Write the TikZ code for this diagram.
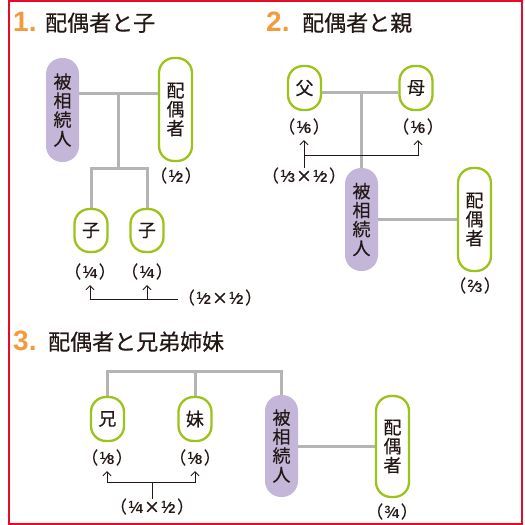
\documentclass[tikz,border=0pt]{standalone}
\usepackage{fontspec}
\setmainfont{Noto Sans CJK JP}[FakeBold=0.35]
\newfontfamily\numfont{Liberation Sans}
\usetikzlibrary{arrows.meta}
\definecolor{orangeC}{HTML}{F39A3C}
\definecolor{purpleC}{HTML}{C4B6D9}
\definecolor{greenC}{HTML}{9CC31A}
\definecolor{grayC}{HTML}{B4B4B4}
\definecolor{redC}{HTML}{E60A28}
\definecolor{textC}{HTML}{231815}
\newcommand\myfr[2]{{\numfont\bfseries\raisebox{4.2pt}{\fontsize{10.5}{10.5}\selectfont #1}\kern-0.6pt{\fontsize{16}{16}\selectfont\char"2044}\kern-0.6pt{\fontsize{13}{13}\selectfont #2}}}
\newcommand\mypf[1]{（\kern1.5pt#1\kern1.5pt）}
\newcommand\mytimes{\kern1pt{\fontsize{16}{16}\selectfont ×}\kern1pt}
\tikzset{
  hei/.style={fill=purpleC, draw=none, rounded corners=16pt, minimum width=33pt, inner sep=0pt, align=center, text=textC, font=\fontsize{18}{19}\selectfont},
  kin/.style={fill=white, draw=greenC, line width=2.3pt, rounded corners=15pt, minimum width=33pt, inner sep=0pt, align=center, text=textC, font=\fontsize{18}{19}\selectfont},
  gl/.style={draw=grayC, line width=3pt},
  fl/.style={inner sep=0pt, text height=13pt, text depth=3pt, text=textC, font=\fontsize{17}{19}\selectfont},
  arr/.style={draw=textC, line width=0.9pt, -{Straight Barb[length=4pt,width=8pt]}},
  ln/.style={draw=textC, line width=0.9pt},
  numt/.style={anchor=base west, text=orangeC, inner sep=0pt, font=\numfont\bfseries\fontsize{28}{28}\selectfont},
  tit/.style={anchor=base west, text=textC, inner sep=0pt, font=\fontsize{22}{22}\selectfont},
}
\begin{document}
\begin{tikzpicture}[x=1pt,y=-1pt]
\useasboundingbox (0,0) rectangle (525,525);
\draw[redC, line width=2pt] (8.5,1) rectangle (521.5,523.5);

% ---- 1 ----
\node[numt] (n1) at (13,31) {1.};
\node[tit] (t1) at (45,31) {配偶者と子};
\node[hei, minimum height=104pt] (h1) at (62.5,110) {被\\相\\続\\人};
\node[kin, minimum height=103pt] (s1) at (175.5,109.5) {配\\偶\\者};
\node[kin, minimum height=43pt] (c1) at (91,230.5) {子};
\node[kin, minimum height=43pt] (c2) at (147,230.5) {子};
\coordinate (j1) at (118,93);
\coordinate (j1b) at (118,168);
\draw[gl] (h1.east |- j1) -- (s1.west |- j1);
\draw[gl] (j1) -- (j1b);
\draw[gl] (c1.north) |- (j1b) -| (c2.north);
\node[fl] (f1) at (176,177) {\mypf{\myfr12}};
\node[fl] (f4a) at (90,273) {\mypf{\myfr14}};
\node[fl] (f4b) at (147,273) {\mypf{\myfr14}};
\node[fl] (l1) at (220,299) {\mypf{\myfr12\mytimes\myfr12}};
\draw[arr, shorten >=4pt] (l1.west) -| (f4a.south);
\draw[arr, shorten >=4pt] (f4b.south |- l1.west) -- (f4b.south);

% ---- 2 ----
\node[numt] (n2) at (266,31) {2.};
\node[tit] (t2) at (302,31) {配偶者と親};
\node[kin, minimum height=44pt] (fa) at (304.5,88) {父};
\node[kin, minimum height=44pt] (mo) at (416,88) {母};
\node[hei, minimum height=103pt] (h2) at (361.5,219.5) {被\\相\\続\\人};
\node[kin, minimum height=103pt] (s2) at (474.5,219.5) {配\\偶\\者};
\coordinate (j2) at (361.5,92);
\draw[gl] (fa.east |- j2) -- (mo.west |- j2);
\draw[gl] (j2) -- (h2.north);
\draw[gl] (h2.east) -- (s2.west);
\node[fl] (f6a) at (304,128) {\mypf{\myfr16}};
\node[fl] (f6b) at (418,128) {\mypf{\myfr16}};
\node[fl] (l2) at (304,177) {\mypf{\myfr13\mytimes\myfr12}};
\node[fl] (f23) at (475,287) {\mypf{\myfr23}};
\coordinate (k2) at (304,155);
\draw[arr, shorten >=4pt, shorten <=1pt] (l2.north) -- (f6a.south);
\draw[arr, shorten >=4pt] (k2) -| (f6b.south);

% ---- 3 ----
\node[numt] (n3) at (13,350) {3.};
\node[tit] (t3) at (48,350) {配偶者と兄弟姉妹};
\node[kin, minimum height=44pt] (br) at (107.5,419) {兄};
\node[kin, minimum height=44pt] (si) at (195,419) {妹};
\node[hei, minimum height=102pt] (h3) at (281.5,446) {被\\相\\続\\人};
\node[kin, minimum height=101pt] (s3) at (392.5,446.5) {配\\偶\\者};
\coordinate (j3) at (195,371);
\draw[gl] (br.north) |- (j3) -| (h3.north);
\draw[gl] (si.north) -- (j3);
\draw[gl] (h3.east) -- (s3.west |- h3.east);
\node[fl] (f8a) at (107,459) {\mypf{\myfr18}};
\node[fl] (f8b) at (195,459) {\mypf{\myfr18}};
\node[fl] (l3) at (152,508) {\mypf{\myfr14\mytimes\myfr12}};
\node[fl] (f34) at (392,513) {\mypf{\myfr34}};
\coordinate (k3) at (152,482);
\draw[ln, shorten <=1pt] (l3.north) -- (k3);
\draw[arr, shorten >=4pt] (k3) -| (f8a.south);
\draw[arr, shorten >=4pt] (k3) -| (f8b.south);
\end{tikzpicture}
\end{document}
